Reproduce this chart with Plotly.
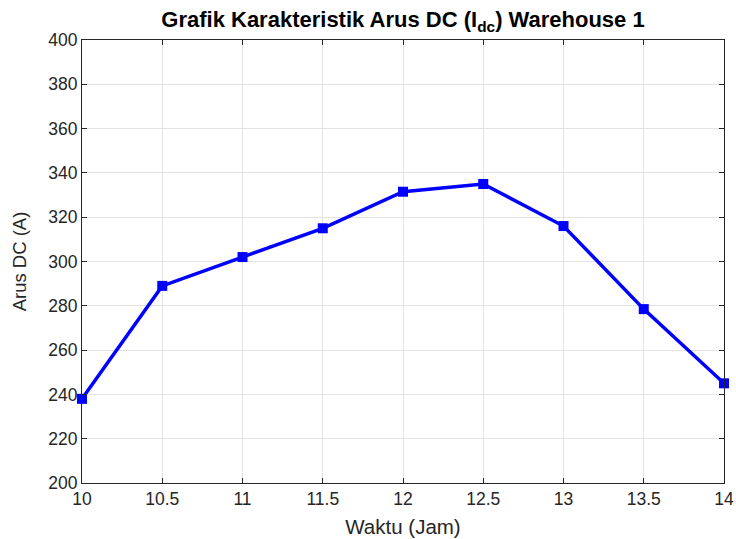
import plotly.graph_objects as go

waktu = [10, 10.5, 11, 11.5, 12, 12.5, 13, 13.5, 14]
arus_dc = [238, 289, 302, 315, 331.5, 335, 316, 278.5, 245]
x_ticks = [10, 10.5, 11, 11.5, 12, 12.5, 13, 13.5, 14]
y_ticks = [200, 220, 240, 260, 280, 300, 320, 340, 360, 380, 400]

FONT = "Liberation Sans, Arial"
W, H = 736, 539
L, R, T, B = 82, 12, 40, 56

fig = go.Figure()
fig.add_trace(go.Scatter(
    x=waktu, y=arus_dc, mode="lines+markers",
    line=dict(color="#0000FF", width=3.5),
    marker=dict(symbol="square", size=10, color="#0000FF"),
    cliponaxis=False, showlegend=False,
))

axis_common = dict(
    showline=True, linecolor="#262626", linewidth=1, mirror="ticks",
    ticks="inside", ticklen=5, tickcolor="#262626",
    showgrid=True, gridcolor="#E3E3E3", gridwidth=1,
    zeroline=False, automargin=False,
    ticklabeloverflow="allow",
    tickfont=dict(family=FONT, size=17.5, color="#262626"),
)

fig.update_layout(
    width=W, height=H,
    margin=dict(l=L, r=R, t=T, b=B),
    paper_bgcolor="white", plot_bgcolor="white",
    title=dict(
        text="<b>Grafik Karakteristik Arus DC (I<sub>dc</sub>) Warehouse 1</b>",
        x=(L + (W - L - R) / 2) / W, xref="container", xanchor="center",
        y=1 - 12 / H, yref="container", yanchor="top",
        font=dict(family=FONT, size=22, color="black"),
    ),
    xaxis=dict(range=[10, 14], tickvals=x_ticks,
               ticktext=[f"{v:g}" for v in x_ticks],
               title=dict(text="Waktu (Jam)", standoff=11,
                          font=dict(family=FONT, size=20.5, color="#262626")),
               **axis_common),
    yaxis=dict(range=[200, 400], tickvals=y_ticks,
               title=dict(text="Arus DC (A)", standoff=16,
                          font=dict(family=FONT, size=18.5, color="#262626")),
               **axis_common),
)

fig.write_html("out.html", config={"displayModeBar": False},
               post_script="document.body.style.margin='0';")
